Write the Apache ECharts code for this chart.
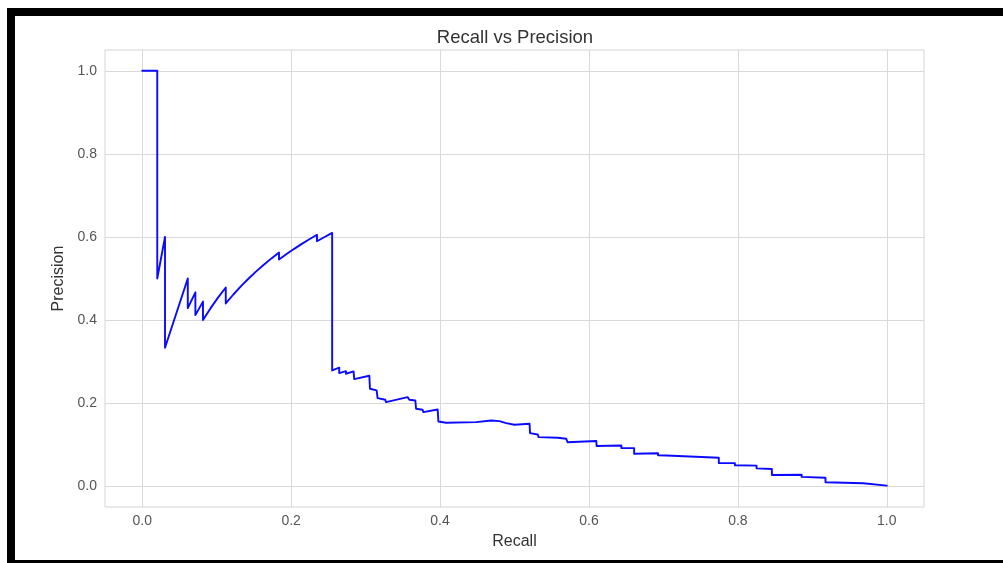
<!DOCTYPE html>
<html>
<head>
<meta charset="utf-8">
<title>Recall vs Precision</title>
<script src="https://cdn.jsdelivr.net/npm/echarts@6/dist/echarts.min.js"></script>
<style>
  html, body { margin: 0; padding: 0; background: #ffffff; }
  #chart { width: 1003px; height: 563px; }
  .edge { position: absolute; background: #000000; pointer-events: none; }
</style>
</head>
<body>
<div id="chart"></div>
<div class="edge" style="left:7px; top:8px; width:996px; height:8px;"></div>
<div class="edge" style="left:7px; top:8px; width:8px; height:555px;"></div>
<div class="edge" style="left:7px; top:560px; width:996px; height:3px;"></div>
<script>
// Precision-recall curve points (recall, precision)
const recall = [
  0, 0.0202, 0.0202, 0.0306, 0.0306, 0.0612, 0.0612, 0.0714, 0.0714, 0.0816, 0.0816,
  0.0918, 0.1020, 0.1122, 0.1122,
  0.1224, 0.1327, 0.1429, 0.1531, 0.1633, 0.1735, 0.1837, 0.1837,
  0.1939, 0.2041, 0.2143, 0.2245, 0.2347, 0.2347, 0.2449, 0.2551,
  0.2551, 0.2646, 0.2646, 0.2736, 0.2736, 0.2838, 0.2848, 0.3050, 0.3059, 0.3148,
  0.3161, 0.3265, 0.3274, 0.3565, 0.3588, 0.3668, 0.3678, 0.3766, 0.3776, 0.3968,
  0.3978, 0.4081, 0.4103, 0.4485, 0.4687, 0.4798, 0.4888, 0.5000, 0.5202, 0.5209,
  0.5313, 0.5323, 0.5583, 0.5695, 0.5713, 0.6099, 0.6103,
  0.6435, 0.6435, 0.6607, 0.6607,
  0.6928, 0.6928, 0.7040, 0.7040, 0.7744, 0.7744,
  0.7960, 0.7960, 0.8251, 0.8251, 0.8457, 0.8457,
  0.8857, 0.8857, 0.9177, 0.9177, 0.9685, 0.9685, 1.0
];
const precision = [
  1.0, 1.0, 0.5, 0.6, 0.3333, 0.5, 0.4286, 0.4667, 0.4118, 0.4444, 0.4,
  0.4286, 0.4545, 0.4783, 0.44,
  0.4615, 0.4815, 0.5, 0.5172, 0.5333, 0.5484, 0.5625, 0.5455,
  0.5588, 0.5714, 0.5833, 0.5946, 0.6053, 0.5897, 0.6, 0.6098,
  0.2787, 0.2853, 0.2723, 0.2771, 0.2708, 0.2764, 0.2578, 0.2660, 0.2347, 0.2306,
  0.2120, 0.2082, 0.2024, 0.2145, 0.2082, 0.2065, 0.1865, 0.1841, 0.1783, 0.1848,
  0.1559, 0.1528, 0.1487, 0.1542, 0.1583, 0.1566, 0.1518, 0.1480, 0.1504, 0.1277,
  0.1246, 0.1181, 0.1166, 0.1142, 0.1060, 0.1089, 0.0969,
  0.0981, 0.0920, 0.0916, 0.0781,
  0.0795, 0.0745, 0.0740, 0.0700, 0.0684, 0.0559,
  0.0555, 0.0505, 0.0495, 0.0430, 0.0414, 0.0270,
  0.0275, 0.0225, 0.0205, 0.0096, 0.0070, 0.0050, 0.0015
];
const xTicks = [0, 0.2, 0.4, 0.6, 0.8, 1.0];
const yTicks = [0, 0.2, 0.4, 0.6, 0.8, 1.0];

const font = '"Liberation Sans", Arial, sans-serif';
const gridColor = '#d9d9d9';
const labelFmt = v => v.toFixed(1);

const chart = echarts.init(document.getElementById('chart'), null, { renderer: 'canvas' });
chart.setOption({
  animation: false,
  backgroundColor: 'transparent',
  title: {
    text: 'Recall vs Precision',
    left: 515, top: 27, textAlign: 'center',
    textStyle: { fontFamily: font, fontSize: 18.5, fontWeight: 'normal', color: '#333333', lineHeight: 22 },
    padding: 0
  },
  grid: {
    left: 105, top: 50, width: 819, height: 457,
    show: true, borderColor: '#d4d4d4', borderWidth: 1, backgroundColor: '#ffffff'
  },
  xAxis: {
    type: 'value', min: -0.05, max: 1.05,
    name: 'Recall', nameLocation: 'middle', nameGap: 27,
    nameTextStyle: { fontFamily: font, fontSize: 16, color: '#333333' },
    axisLine: { show: false }, axisTick: { show: false }, splitLine: { show: false },
    axisLabel: {
      customValues: xTicks, formatter: labelFmt, margin: 7,
      fontFamily: font, fontSize: 14, color: '#555555'
    }
  },
  yAxis: {
    type: 'value', min: -0.05, max: 1.05,
    name: 'Precision', nameLocation: 'middle', nameGap: 32, nameRotate: 90,
    nameTextStyle: { fontFamily: font, fontSize: 16, color: '#333333' },
    axisLine: { show: false }, axisTick: { show: false }, splitLine: { show: false },
    axisLabel: {
      customValues: yTicks, formatter: labelFmt, margin: 8,
      fontFamily: font, fontSize: 14, color: '#555555'
    }
  },
  series: [
    {
      // grid lines at the labelled tick positions
      type: 'line', data: [], z: 1, silent: true,
      markLine: {
        silent: true, symbol: 'none', label: { show: false },
        lineStyle: { color: gridColor, width: 1, type: 'solid' },
        emphasis: { disabled: true },
        data: xTicks.map(v => ({ xAxis: v })).concat(yTicks.map(v => ({ yAxis: v })))
      }
    },
    {
      // precision-recall curve, on its own layer above the grid lines
      type: 'line', z: 3, zlevel: 1,
      data: recall.map((r, i) => [r, precision[i]]),
      showSymbol: false,
      lineStyle: { color: '#0a0aff', width: 1.9, join: 'round', cap: 'round' },
      itemStyle: { color: '#0a0aff' }
    }
  ]
});
</script>
</body>
</html>
